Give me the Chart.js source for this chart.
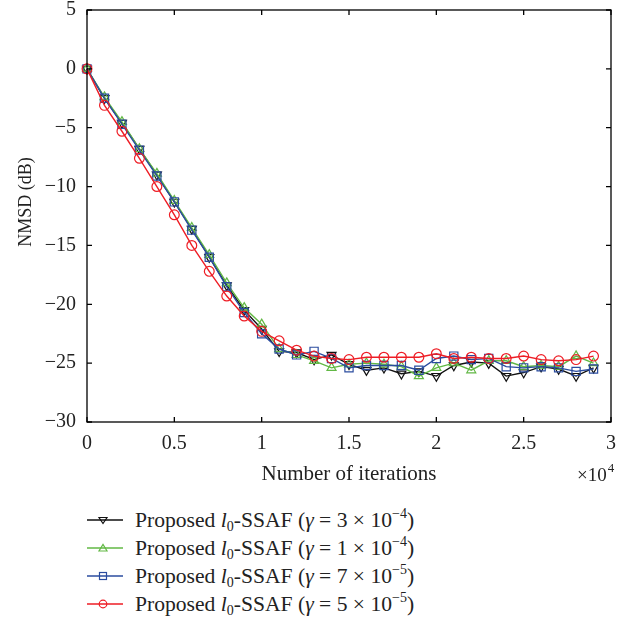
<!DOCTYPE html>
<html>
<head>
<meta charset="utf-8">
<script src="https://cdn.jsdelivr.net/npm/chart.js@4.4.0/dist/chart.umd.min.js"></script>
<style>
  html, body { margin:0; padding:0; background:#fff; }
  #wrap { position:relative; width:637px; height:621px; }
  #chartBox { position:absolute; left:0; top:0; width:637px; height:500px; }
  #legend { position:absolute; left:86px; top:506px; font-family:"Liberation Serif","DejaVu Serif",serif; font-size:21.6px; color:#222; }
  .row { height:28px; line-height:28px; white-space:nowrap; display:flex; align-items:center; }
  .row svg { width:38px; height:28px; margin-right:11px; flex:none; }
  .row sub { font-size:14px; vertical-align:-4px; line-height:0; }
  .row sup { font-size:14px; vertical-align:9px; line-height:0; }
</style>
</head>
<body>
<div id="wrap">
  <div id="chartBox"><canvas id="nmsdChart" width="637" height="500"></canvas></div>
  <div id="legend"></div>
</div>
<script>
// ===== DATA =====
const iterations = [0,1000,2000,3000,4000,5000,6000,7000,8000,9000,10000,11000,12000,13000,14000,
  15000,16000,17000,18000,19000,20000,21000,22000,23000,24000,25000,26000,27000,28000,29000];

const gamma3e4 = [0,-2.5,-4.6,-6.8,-9.0,-11.3,-13.6,-16.0,-18.4,-20.5,-22.1,-24.0,-24.1,-24.7,-24.3,
  -25.1,-25.6,-25.4,-25.9,-25.7,-26.1,-25.2,-24.9,-25.0,-26.1,-25.8,-25.3,-25.5,-26.1,-25.4];
const gamma1e4 = [0,-2.4,-4.5,-6.8,-8.9,-11.2,-13.5,-15.8,-18.2,-20.3,-21.7,-23.8,-24.3,-24.8,-25.4,
  -25.1,-25.0,-25.1,-25.3,-26.1,-25.4,-25.0,-25.6,-24.8,-24.8,-25.3,-25.2,-25.3,-24.4,-25.0];
const gamma7e5 = [0,-2.5,-4.7,-6.9,-9.1,-11.3,-13.7,-16.0,-18.5,-20.7,-22.5,-23.8,-24.3,-24.0,-24.6,
  -25.4,-25.2,-25.2,-25.2,-25.6,-24.6,-24.4,-24.7,-24.6,-25.3,-25.4,-25.3,-25.4,-25.7,-25.5];
const gamma5e5 = [0,-3.1,-5.3,-7.6,-10.0,-12.4,-15.0,-17.2,-19.3,-21.0,-22.3,-23.1,-23.9,-24.4,-24.6,
  -24.7,-24.5,-24.5,-24.5,-24.5,-24.2,-24.6,-24.5,-24.6,-24.6,-24.4,-24.7,-24.8,-24.7,-24.4];

const xTicks = [0,5000,10000,15000,20000,25000,30000];
const yTicks = [5,0,-5,-10,-15,-20,-25,-30];

const seriesNames = ['3 × 10<sup>−4</sup>','1 × 10<sup>−4</sup>','7 × 10<sup>−5</sup>','5 × 10<sup>−5</sup>'];
const seriesValues = [gamma3e4, gamma1e4, gamma7e5, gamma5e5];
const seriesColors = ['#111111','#62b845','#2b4c9f','#ee1d25'];
const seriesMarkers = ['triangle','triangle','rect','circle'];
const seriesRotation = [180,0,0,0];
const seriesRadius = [5.2,5.2,5.8,4.9];
const seriesOrder = [3,2,1,0]; // red drawn on top

const FONT = '"Liberation Serif","DejaVu Serif",serif';
Chart.defaults.font.family = FONT;
Chart.defaults.color = '#222';

function minusFmt(v){
  return v < 0 ? '\u2212' + Math.abs(v) : String(v);
}

// ===== BOX + INWARD TICKS + LABELS =====
const boxPlugin = {
  id:'boxTicks',
  afterDraw(chart){
    const {ctx, chartArea:a, scales} = chart;
    ctx.save();
    ctx.strokeStyle = '#000';
    ctx.lineWidth = 1.3;
    ctx.strokeRect(a.left, a.top, a.right - a.left, a.bottom - a.top);
    ctx.beginPath();
    xTicks.forEach(v=>{
      const px = scales.x.getPixelForValue(v);
      ctx.moveTo(px, a.bottom); ctx.lineTo(px, a.bottom - 5);
      ctx.moveTo(px, a.top); ctx.lineTo(px, a.top + 5);
    });
    yTicks.forEach(v=>{
      const py = scales.y.getPixelForValue(v);
      ctx.moveTo(a.left, py); ctx.lineTo(a.left + 5, py);
      ctx.moveTo(a.right, py); ctx.lineTo(a.right - 5, py);
    });
    ctx.stroke();

    ctx.fillStyle = '#222';
    // y title
    ctx.save();
    ctx.translate(26, 202);
    ctx.rotate(-Math.PI/2);
    ctx.textAlign = 'center';
    ctx.textBaseline = 'middle';
    ctx.font = '18px ' + FONT;
    ctx.fillText('NMSD (dB)', 0, 0);
    ctx.restore();

    // x10^4
    ctx.textBaseline = 'alphabetic';
    ctx.textAlign = 'left';
    ctx.font = '19px ' + FONT;
    ctx.fillText('\u00d710', 577, 481);
    const w = ctx.measureText('\u00d710').width;
    ctx.font = '13px ' + FONT;
    ctx.fillText('4', 577 + w + 1, 472);
    ctx.restore();
  }
};

// ===== CHART =====
const datasets = seriesValues.map((vals,i)=>({
  label: 'γ = ' + seriesNames[i],
  data: iterations.map((x,k)=>({x:x, y:vals[k]})),
  borderColor: seriesColors[i],
  backgroundColor: 'rgba(0,0,0,0)',
  pointBackgroundColor: 'rgba(0,0,0,0)',
  pointBorderColor: seriesColors[i],
  pointStyle: seriesMarkers[i],
  rotation: seriesRotation[i],
  pointRadius: seriesRadius[i],
  pointBorderWidth: 1.2,
  borderWidth: 1.4,
  tension: 0,
  clip: false,
  order: seriesOrder[i]
}));

new Chart(document.getElementById('nmsdChart'), {
  type:'line',
  data:{ datasets },
  plugins:[boxPlugin],
  options:{
    responsive:false,
    animation:false,
    events:[],
    layout:{ padding:{ left:0, top:10, right:26, bottom:9 } },
    plugins:{ legend:{ display:false }, tooltip:{ enabled:false } },
    scales:{
      x:{
        type:'linear', min:0, max:30000,
        afterBuildTicks: s => { s.ticks = xTicks.map(v=>({value:v})); },
        afterFit: s => { s.height = 69; s.paddingLeft = 0; s.paddingRight = 0; },
        grid:{ display:false, drawTicks:false },
        border:{ display:false },
        ticks:{ padding:10, color:'#222', font:{ size:20 }, maxRotation:0,
          callback: v => String(v/10000) },
        title:{ display:true, text:'Number of iterations', color:'#222', font:{ size:21 } }
      },
      y:{
        min:-30, max:5,
        afterBuildTicks: s => { s.ticks = yTicks.map(v=>({value:v})); },
        afterFit: s => { s.width = 87; s.paddingTop = 0; s.paddingBottom = 0; },
        grid:{ display:false, drawTicks:false },
        border:{ display:false },
        ticks:{ padding:11, color:'#222', font:{ size:20 }, callback: v => minusFmt(v) },
        title:{ display:false }
      }
    }
  }
});

// ===== LEGEND (html so the math can be styled) =====
const legend = document.getElementById('legend');
function markerSvg(i){
  const c = seriesColors[i];
  let m = '';
  if(i === 0) m = `<polygon points="13,11.5 21,11.5 17,17.5" fill="none" stroke="${c}" stroke-width="1.2"/>`;
  if(i === 1) m = `<polygon points="13,17 21,17 17,10.5" fill="none" stroke="${c}" stroke-width="1.2"/>`;
  if(i === 2) m = `<rect x="13.5" y="10.5" width="7" height="7" fill="none" stroke="${c}" stroke-width="1.2"/>`;
  if(i === 3) m = `<circle cx="17" cy="14" r="3.8" fill="none" stroke="${c}" stroke-width="1.2"/>`;
  return `<svg viewBox="0 0 38 28"><line x1="1" y1="14" x2="37" y2="14" stroke="${c}" stroke-width="1.3"/>${m}</svg>`;
}
seriesNames.forEach((n,i)=>{
  legend.innerHTML += `<div class="row">${markerSvg(i)}<span>Proposed <i>l</i><sub>0</sub>-SSAF (<i>γ</i> = ${n})</span></div>`;
});
</script>
</body>
</html>
